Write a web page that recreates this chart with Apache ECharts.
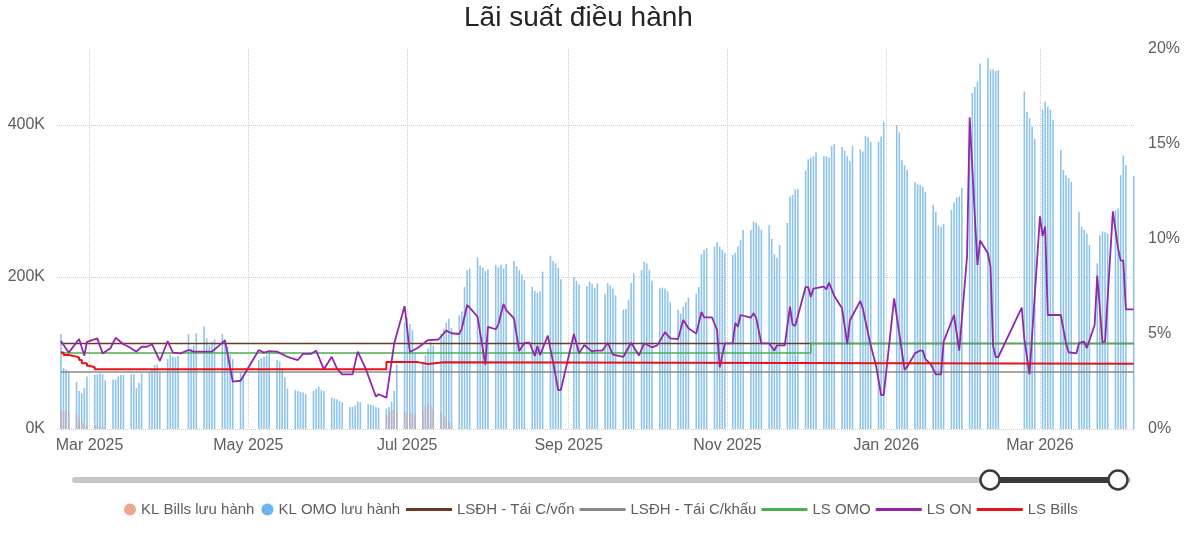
<!DOCTYPE html>
<html lang="vi">
<head>
    <meta charset="UTF-8">
    <title>Lãi suất điều hành</title>
    <script src="https://cdn.jsdelivr.net/npm/echarts@6.0.0/dist/echarts.min.js"></script>
    <style>
        html, body { margin: 0; padding: 0; background: #fff; }
        #chart { width: 1200px; height: 542px; }
    </style>
</head>
<body>
<div id="chart"></div>
<script>
    // x axis runs over every calendar day in this range
    const firstDay = '2025-02-17';
    const lastDay = '2026-04-06';

    const xTickDates = ['2025-03-01', '2025-05-01', '2025-07-01', '2025-09-01', '2025-11-01', '2026-01-01', '2026-03-01'];
    const xTickText = ['Mar 2025', 'May 2025', 'Jul 2025', 'Sep 2025', 'Nov 2025', 'Jan 2026', 'Mar 2026'];

    // KL OMO lưu hành (nghìn tỷ, "K"), one row per week Mon..Fri
    const omoWeeks = [
        ['2025-02-17', [null, 125, 80, 78, 76]],
        ['2025-02-24', [62, 50, 47, 54, 69]],
        ['2025-03-03', [71, 72, 73, 72, 64]],
        ['2025-03-10', [65, 65, 69, 71, 71]],
        ['2025-03-17', [72, 72, 54, 61, 73]],
        ['2025-03-24', [75, 78, 84, 85, 74]],
        ['2025-03-31', [92, 98, 95, 94, 96]],
        ['2025-04-07', [null, 125, 106, 110, 126]],
        ['2025-04-14', [135, 119, 110, 115, 118]],
        ['2025-04-21', [125, 117, 108, 98, 92]],
        ['2025-04-28', [74, 71, null, null, null]],
        ['2025-05-05', [91, 93, 95, 97, 103]],
        ['2025-05-12', [91, 89, 80, 68, 53]],
        ['2025-05-19', [51, 50, 49, 48, 46]],
        ['2025-05-26', [50, 53, 56, 51, 50]],
        ['2025-06-02', [41, 40, 39, 37, 35]],
        ['2025-06-09', [29, 29, 31, 36, 35]],
        ['2025-06-16', [33, 32, 31, 29, 28]],
        ['2025-06-23', [27, 29, 36, 50, 85]],
        ['2025-06-30', [140, 146, 138, 130, 100]],
        ['2025-07-07', [86, 97, 106, 115, 110]],
        ['2025-07-14', [125, 132, 140, 145, 133]],
        ['2025-07-21', [150, 155, 187, 209, 211]],
        ['2025-07-28', [226, 215, 212, 208, 210]],
        ['2025-08-04', [216, 213, 216, 211, 217]],
        ['2025-08-11', [221, 214, 209, 203, 196]],
        ['2025-08-18', [187, 182, 179, 181, 207]],
        ['2025-08-25', [228, 221, 218, 212, 197]],
        ['2025-09-01', [null, null, 200, 195, 190]],
        ['2025-09-08', [188, 194, 191, 186, 192]],
        ['2025-09-15', [178, 192, 189, 185, 176]],
        ['2025-09-22', [157, 158, 170, 192, 205]],
        ['2025-09-29', [209, 220, 218, 209, 195]],
        ['2025-10-06', [185, 186, 185, 181, 167]],
        ['2025-10-13', [157, 152, 161, 167, 173]],
        ['2025-10-20', [178, 187, 230, 236, 238]],
        ['2025-10-27', [240, 246, 240, 236, 232]],
        ['2025-11-03', [229, 232, 240, 249, 262]],
        ['2025-11-10', [262, 273, 271, 267, 262]],
        ['2025-11-17', [268, 250, 230, 225, 242]],
        ['2025-11-24', [271, 306, 308, 315, 316]],
        ['2025-12-01', [340, 355, 357, 359, 364]],
        ['2025-12-08', [359, 359, 357, 372, 375]],
        ['2025-12-15', [371, 366, 359, 353, 372]],
        ['2025-12-22', [368, 365, 386, 384, 378]],
        ['2025-12-29', [378, 385, 404, null, null]],
        ['2026-01-05', [400, 390, 354, 347, 341]],
        ['2026-01-12', [325, 322, 321, 319, 312]],
        ['2026-01-19', [295, 286, 268, 266, 270]],
        ['2026-01-26', [288, 298, 305, 306, 317]],
        ['2026-02-02', [376, 442, 450, 457, 481]],
        ['2026-02-09', [488, 473, 473, 471, 472]],
        ['2026-02-23', [444, 417, 409, 398, 382]],
        ['2026-03-02', [420, 431, 424, 420, 407]],
        ['2026-03-09', [367, 341, 334, 330, 325]],
        ['2026-03-16', [286, 266, 262, 257, 242]],
        ['2026-03-23', [218, 255, 260, 259, 257]],
        ['2026-03-30', [288, 290, 334, 360, 347]],
        ['2026-04-06', [333, null, null, null, null]]
    ];

    // KL Bills lưu hành
    const billsWeeks = [
        ['2025-02-17', [null, 25, 24, 24, 23]],
        ['2025-02-24', [21, 13, 10, 7, 5]],
        ['2025-03-03', [5, 4, 3, 3, 2]],
        ['2025-06-23', [18, 22, 25, 25, 23]],
        ['2025-06-30', [22, 21, 21, 20, 19]],
        ['2025-07-07', [24, 30, 34, 31, 26]],
        ['2025-07-14', [22, 18, 14, 9, 4]],
        ['2025-07-21', [2, null, null, null, null]]
    ];

    // LS ON (%)
    const onRate = [
        ['2025-02-18', 4.63], ['2025-02-21', 4.02], ['2025-02-25', 4.74], ['2025-02-27', 3.86], ['2025-02-28', 4.59],
        ['2025-03-04', 4.77], ['2025-03-06', 3.98], ['2025-03-09', 4.25], ['2025-03-11', 4.80], ['2025-03-14', 4.46],
        ['2025-03-16', 4.33], ['2025-03-19', 4.07], ['2025-03-21', 4.33], ['2025-03-23', 4.33], ['2025-03-25', 4.46],
        ['2025-03-28', 3.58], ['2025-03-31', 4.63], ['2025-04-02', 4.02], ['2025-04-05', 3.98], ['2025-04-08', 4.16],
        ['2025-04-10', 4.07], ['2025-04-14', 4.07], ['2025-04-17', 4.07], ['2025-04-19', 4.30], ['2025-04-22', 4.68],
        ['2025-04-25', 2.49], ['2025-04-28', 2.54], ['2025-05-05', 4.16], ['2025-05-07', 4.02], ['2025-05-09', 4.10],
        ['2025-05-12', 4.07], ['2025-05-16', 3.80], ['2025-05-20', 3.63], ['2025-05-22', 3.95], ['2025-05-25', 3.95],
        ['2025-05-27', 4.12], ['2025-05-30', 3.14], ['2025-06-02', 3.80], ['2025-06-04', 3.19], ['2025-06-06', 2.88],
        ['2025-06-10', 2.88], ['2025-06-12', 4.07], ['2025-06-15', 3.19], ['2025-06-19', 1.70], ['2025-06-20', 1.83],
        ['2025-06-23', 1.65], ['2025-06-26', 4.51], ['2025-06-30', 6.47], ['2025-07-02', 4.05], ['2025-07-05', 4.26],
        ['2025-07-09', 4.68], ['2025-07-13', 4.71], ['2025-07-16', 5.18], ['2025-07-18', 5.04], ['2025-07-21', 5.00],
        ['2025-07-22', 5.30], ['2025-07-24', 6.53], ['2025-07-28', 5.91], ['2025-07-31', 3.39], ['2025-08-01', 5.38],
        ['2025-08-04', 5.25], ['2025-08-05', 5.51], ['2025-08-07', 6.58], ['2025-08-08', 6.26], ['2025-08-11', 5.82],
        ['2025-08-13', 4.10], ['2025-08-15', 4.53], ['2025-08-17', 4.54], ['2025-08-19', 3.84], ['2025-08-20', 4.37],
        ['2025-08-21', 3.89], ['2025-08-24', 4.91], ['2025-08-26', 3.53], ['2025-08-28', 2.05], ['2025-08-29', 2.05],
        ['2025-09-03', 5.00], ['2025-09-05', 3.98], ['2025-09-07', 4.42], ['2025-09-10', 4.07], ['2025-09-11', 4.12],
        ['2025-09-14', 4.13], ['2025-09-16', 4.54], ['2025-09-18', 3.92], ['2025-09-22', 3.80], ['2025-09-25', 4.54],
        ['2025-09-28', 3.87], ['2025-09-30', 4.51], ['2025-10-03', 4.30], ['2025-10-05', 4.40], ['2025-10-08', 5.10],
        ['2025-10-10', 4.77], ['2025-10-13', 4.73], ['2025-10-15', 5.74], ['2025-10-17', 5.30], ['2025-10-20', 5.02],
        ['2025-10-22', 6.16], ['2025-10-23', 5.88], ['2025-10-26', 5.88], ['2025-10-28', 5.21], ['2025-10-29', 3.24],
        ['2025-10-31', 4.51], ['2025-11-03', 4.51], ['2025-11-04', 5.58], ['2025-11-05', 5.38], ['2025-11-06', 6.00],
        ['2025-11-10', 5.86], ['2025-11-11', 6.10], ['2025-11-12', 5.86], ['2025-11-14', 4.51], ['2025-11-17', 4.51],
        ['2025-11-19', 4.12], ['2025-11-20', 4.40], ['2025-11-23', 4.40], ['2025-11-25', 6.44], ['2025-11-26', 5.50],
        ['2025-11-27', 5.42], ['2025-12-01', 7.47], ['2025-12-02', 7.47], ['2025-12-03', 6.95], ['2025-12-04', 7.39],
        ['2025-12-08', 7.49], ['2025-12-09', 7.35], ['2025-12-10', 7.70], ['2025-12-12', 7.00], ['2025-12-15', 6.35],
        ['2025-12-17', 4.47], ['2025-12-18', 5.71], ['2025-12-22', 6.74], ['2025-12-23', 6.32], ['2025-12-26', 4.39],
        ['2025-12-28', 3.37], ['2025-12-30', 1.79], ['2025-12-31', 1.79], ['2026-01-04', 6.88], ['2026-01-06', 5.00],
        ['2026-01-08', 3.11], ['2026-01-09', 3.28], ['2026-01-12', 3.98], ['2026-01-14', 4.13], ['2026-01-15', 4.13],
        ['2026-01-16', 3.68], ['2026-01-18', 3.42], ['2026-01-20', 2.87], ['2026-01-22', 2.87], ['2026-01-23', 4.60],
        ['2026-01-27', 6.00], ['2026-01-29', 4.13], ['2026-02-01', 9.08], ['2026-02-02', 16.40], ['2026-02-04', 11.17],
        ['2026-02-05', 8.63], ['2026-02-06', 9.92], ['2026-02-09', 9.25], ['2026-02-10', 8.54], ['2026-02-11', 4.39],
        ['2026-02-12', 3.79], ['2026-02-13', 3.79], ['2026-02-22', 6.39], ['2026-02-23', 4.74], ['2026-02-25', 2.87],
        ['2026-03-01', 11.19], ['2026-03-02', 10.16], ['2026-03-03', 10.65], ['2026-03-04', 6.00], ['2026-03-09', 6.00],
        ['2026-03-11', 4.51], ['2026-03-12', 4.04], ['2026-03-15', 3.98], ['2026-03-16', 4.53], ['2026-03-18', 4.60],
        ['2026-03-19', 4.26], ['2026-03-22', 5.47], ['2026-03-23', 8.08], ['2026-03-25', 4.57], ['2026-03-26', 4.60],
        ['2026-03-29', 11.46], ['2026-03-31', 9.51], ['2026-04-01', 8.86], ['2026-04-02', 8.86], ['2026-04-03', 6.30],
        ['2026-04-06', 6.30]
    ];

    // policy rates, value holds until the next change point
    const refinanceRate = [['2025-02-18', 4.5], ['2026-04-06', 4.5]];
    const rediscountRate = [['2025-02-18', 3.0], ['2026-04-06', 3.0]];
    const omoRate = [['2025-02-18', 4.0], ['2025-12-03', 4.5], ['2026-04-06', 4.5]];
    const billsRate = [
        ['2025-02-18', 4.02], ['2025-02-19', 3.89], ['2025-02-21', 3.81], ['2025-02-24', 3.75], ['2025-02-25', 3.63],
        ['2025-02-26', 3.46], ['2025-02-28', 3.33], ['2025-03-01', 3.25], ['2025-03-03', 3.14], ['2025-06-23', 3.52],
        ['2025-07-05', 3.42], ['2025-07-09', 3.51], ['2025-07-15', 3.43], ['2026-04-06', 3.43]
    ];

    const FONT = "'Segoe UI', 'Liberation Sans', Arial, sans-serif";

    function addDays(s, n) {
        const d = new Date(s + 'T00:00:00Z');
        d.setUTCDate(d.getUTCDate() + n);
        return d.toISOString().slice(0, 10);
    }

    const days = [];
    for (let s = firstDay; s <= lastDay; s = addDays(s, 1)) days.push(s);

    const weeksToPoints = (weeks) => {
        const pts = [];
        weeks.forEach(([monday, vals]) => {
            vals.forEach((v, i) => { if (v != null) pts.push([addDays(monday, i), v]); });
        });
        return pts;
    };

    const isTick = (i, v) => xTickDates.includes(v);

    const stepLine = (name, data, color, width) => ({
        name, type: 'line', yAxisIndex: 1, data, step: 'end',
        symbol: 'none', lineStyle: { color, width }, itemStyle: { color }
    });

    const chart = echarts.init(document.getElementById('chart'));
    chart.setOption({
        animation: false,
        textStyle: { fontFamily: FONT },
        title: {
            text: 'Lãi suất điều hành',
            left: 464, top: 4, padding: 0,
            textStyle: { fontSize: 28, fontWeight: 'normal', color: '#252423', fontFamily: FONT }
        },
        grid: { left: 57, right: 65, top: 49, bottom: 113 },
        legend: [
            {
                left: 119, top: 497, icon: 'circle', itemWidth: 12, itemHeight: 12, itemGap: 7,
                textStyle: { fontSize: 15, color: '#605E5C', fontFamily: FONT },
                data: [
                    { name: 'KL Bills lưu hành', itemStyle: { color: '#EDA58B' } },
                    { name: 'KL OMO lưu hành', itemStyle: { color: '#6AB4EF' } }
                ]
            },
            {
                left: 401, top: 497, icon: 'rect', itemWidth: 46, itemHeight: 3, itemGap: 5,
                textStyle: { fontSize: 15, color: '#605E5C', fontFamily: FONT },
                data: ['LSĐH - Tái C/vốn', 'LSĐH - Tái C/khấu', 'LS OMO', 'LS ON', 'LS Bills']
            }
        ],
        xAxis: {
            type: 'category',
            data: days,
            boundaryGap: true,
            axisLine: { show: false },
            axisTick: { show: false },
            axisLabel: {
                interval: isTick,
                formatter: (v) => xTickText[xTickDates.indexOf(v)],
                fontSize: 16, color: '#605E5C', margin: 9
            },
            splitLine: {
                show: true, interval: isTick, alignWithLabel: true,
                lineStyle: { type: 'dotted', color: '#CFCFCF', width: 1 }
            }
        },
        yAxis: [
            {
                type: 'value', position: 'left', min: 0, max: 500, interval: 200,
                axisLine: { show: false }, axisTick: { show: false },
                axisLabel: { formatter: '{value}K', fontSize: 16, color: '#605E5C', margin: 12, showMaxLabel: false },
                splitLine: { show: true, showMaxLine: false, lineStyle: { type: 'dotted', color: '#CFCFCF', width: 1 } }
            },
            {
                type: 'value', position: 'right', min: 0, max: 20, interval: 5,
                axisLine: { show: false }, axisTick: { show: false },
                axisLabel: { formatter: '{value}%', fontSize: 16, color: '#605E5C', margin: 13 },
                splitLine: { show: false }
            }
        ],
        series: [
            {
                name: 'KL OMO lưu hành', type: 'bar', data: weeksToPoints(omoWeeks),
                barWidth: 1.6, barGap: '-100%', itemStyle: { color: '#8EC4EB' }
            },
            {
                name: 'KL Bills lưu hành', type: 'bar', data: weeksToPoints(billsWeeks),
                barWidth: 1.6, barGap: '-100%', itemStyle: { color: '#B6B2C4' }
            },
            stepLine('LSĐH - Tái C/vốn', refinanceRate, '#6B3A22', 1.6),
            stepLine('LSĐH - Tái C/khấu', rediscountRate, '#8A8886', 1.6),
            stepLine('LS OMO', omoRate, '#4CAF50', 1.6),
            {
                name: 'LS ON', type: 'line', yAxisIndex: 1, data: onRate,
                symbol: 'none', lineStyle: { color: '#9128A8', width: 1.8 }, itemStyle: { color: '#9128A8' }
            },
            stepLine('LS Bills', billsRate, '#E3141B', 2)
        ],
        // date range slicer drawn under the plot
        graphic: [
            { type: 'line', shape: { x1: 75, y1: 480, x2: 1128, y2: 480 }, style: { stroke: '#C8C6C4', lineWidth: 6, lineCap: 'round' } },
            { type: 'line', shape: { x1: 990, y1: 480, x2: 1118, y2: 480 }, style: { stroke: '#3B3A39', lineWidth: 6 } },
            { type: 'circle', shape: { cx: 990, cy: 480, r: 9.5 }, style: { fill: '#fff', stroke: '#3B3A39', lineWidth: 2.5 } },
            { type: 'circle', shape: { cx: 1118, cy: 480, r: 9.5 }, style: { fill: '#fff', stroke: '#3B3A39', lineWidth: 2.5 } }
        ]
    });
</script>
</body>
</html>
